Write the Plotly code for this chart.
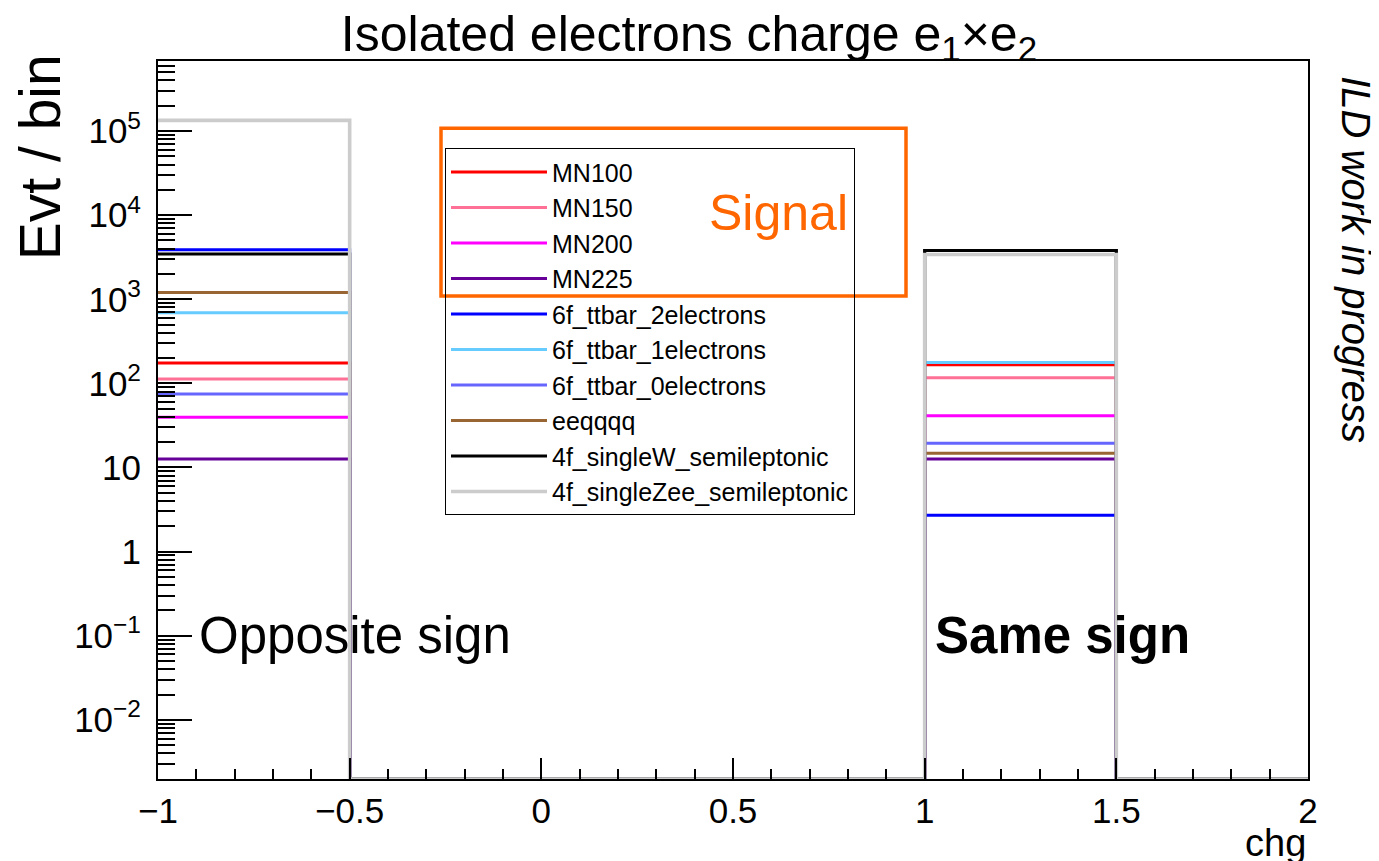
import math
import plotly.graph_objects as go

# ---------------- data ----------------
bin_edges = [-1.0, -0.5, 0.0, 0.5, 1.0, 1.5, 2.0]

legend_labels = [
    "MN100", "MN150", "MN200", "MN225",
    "6f_ttbar_2electrons", "6f_ttbar_1electrons", "6f_ttbar_0electrons",
    "eeqqqq", "4f_singleW_semileptonic", "4f_singleZee_semileptonic",
]
# events in the opposite-sign bin [-1,-0.5] (chg = -1)
opposite_sign = [175, 113, 39.5, 12.6, 3870, 690, 75, 1200, 3450, 134000]
# events in the same-sign bin [1,1.5] (chg = +1)
same_sign = [167, 117, 41.3, 12.6, 2.7, 177, 19.4, 14.8, 3800, 3400]

colors = [
    "#FF0000", "#FF7096", "#FF00FF", "#660099",
    "#0000FF", "#66CCFF", "#6666FF",
    "#996633", "#000000", "#CCCCCC",
]
line_widths = [3, 3, 3, 3, 3, 3, 3, 3, 3.2, 3.6]

y_tick_vals = [1e-2, 1e-1, 1, 10, 1e2, 1e3, 1e4, 1e5]
y_tick_text = ["10<sup>−2</sup>", "10<sup>−1</sup>", "1", "10",
               "10<sup>2</sup>", "10<sup>3</sup>", "10<sup>4</sup>", "10<sup>5</sup>"]
x_tick_vals = [-1, -0.5, 0, 0.5, 1, 1.5, 2]
x_tick_text = ["−1", "−0.5", "0", "0.5", "1", "1.5", "2"]

Y_MIN, Y_MAX = 1.98e-3, 6.8e5

# ---------------- layout geometry ----------------
FONT = "Liberation Sans, Arial, Helvetica, sans-serif"
OFF = 8                   # the page body has an 8px margin
W, H = 1379 - OFF, 861 - OFF
PX0, PX1 = 158, 1308      # plot area in page pixels
PY0, PY1 = 60.7, 779.3
PW, PH = PX1 - PX0, PY1 - PY0


def px(x):
    return (x - PX0) / PW


def py(y):
    return (PY1 - y) / PH


floor_val = Y_MIN  # empty bins drawn on the bottom of the frame (log axis)

fig = go.Figure()
for label, v_os, v_ss, col, lw in zip(legend_labels, opposite_sign, same_sign,
                                      colors, line_widths):
    counts = [v_os, 0, 0, 0, v_ss, 0]
    ys = [c if c > 0 else floor_val for c in counts]
    ys = ys + [ys[-1]]
    fig.add_trace(go.Scatter(
        x=bin_edges, y=ys, mode="lines", name=label,
        line=dict(color=col, width=lw, shape="hv"),
        hoverinfo="skip",
    ))

minor_vals = []
for e in range(-3, 6):
    for m in range(2, 10):
        v = m * 10.0 ** e
        if Y_MIN <= v <= Y_MAX:
            minor_vals.append(v)

fig.update_layout(
    width=W, height=H,
    margin=dict(l=PX0 - OFF, r=W - (PX1 - OFF), t=PY0 - OFF, b=H - (PY1 - OFF),
                autoexpand=False),
    paper_bgcolor="white", plot_bgcolor="white",
    font=dict(family=FONT, color="black"),
    title=dict(
        text="Isolated electrons charge e<sub>1</sub>×e<sub>2</sub>",
        x=(689 - OFF) / W, xanchor="center", y=1 - (33 - OFF) / H, yanchor="middle",
        font=dict(size=50, family=FONT, color="black"),
    ),
    showlegend=True,
    legend=dict(
        x=px(445), y=py(148),
        xanchor="left", yanchor="top",
        bgcolor="rgba(0,0,0,0)", bordercolor="black", borderwidth=1,
        font=dict(size=25, family=FONT, color="black"),
        itemwidth=96, tracegroupgap=0,
    ),
    xaxis=dict(
        range=[-1, 2], showgrid=False, zeroline=False, automargin=False,
        showline=True, linecolor="black", linewidth=2, mirror=True,
        ticks="inside", ticklen=21, tickwidth=1.5, tickcolor="black",
        tickmode="array", tickvals=x_tick_vals, ticktext=x_tick_text,
        tickfont=dict(size=35, family=FONT, color="black"),
        minor=dict(ticks="inside", ticklen=10, tickwidth=1.5, tickcolor="black",
                   dtick=0.1, tick0=0, showgrid=False),
    ),
    yaxis=dict(
        type="log", range=[math.log10(Y_MIN), math.log10(Y_MAX)],
        showgrid=False, zeroline=False, automargin=False,
        showline=True, linecolor="black", linewidth=2, mirror=True,
        ticks="inside", ticklen=34, tickwidth=1.5, tickcolor="black",
        tickmode="array", tickvals=y_tick_vals, ticktext=y_tick_text,
        tickfont=dict(size=35, family=FONT, color="black"),
        ticklabelstandoff=8,
        minor=dict(ticks="inside", ticklen=17, tickwidth=1.5, tickcolor="black",
                   tickmode="array", tickvals=minor_vals, showgrid=False),
    ),
)

# Signal box
fig.add_shape(type="rect", xref="paper", yref="paper",
              x0=px(441), x1=px(906), y0=py(296), y1=py(128),
              line=dict(color="#FF6600", width=3.5), fillcolor="rgba(0,0,0,0)",
              layer="above")

annots = [
    dict(text="Signal", x=px(707), y=py(213),
         xanchor="left", yanchor="middle", font=dict(size=50, color="#FF6600", family=FONT)),
    dict(text="Opposite sign", x=px(197), y=py(636),
         xanchor="left", yanchor="middle", font=dict(size=51, color="black", family=FONT)),
    dict(text="<b>Same sign</b>", x=px(933), y=py(636),
         xanchor="left", yanchor="middle", font=dict(size=51, color="black", family=FONT)),
    dict(text="Evt / bin", x=px(40), y=py(157), textangle=-90,
         xanchor="center", yanchor="middle", font=dict(size=57, color="black", family=FONT)),
    dict(text="chg", x=1.0, y=py(843),
         xanchor="right", yanchor="middle", font=dict(size=38, color="black", family=FONT)),
    dict(text="<i>ILD work in progress</i>", x=px(1356), y=py(260),
         textangle=90, xanchor="center", yanchor="middle",
         font=dict(size=40, color="black", family=FONT)),
]
for a in annots:
    fig.add_annotation(xref="paper", yref="paper", showarrow=False, **a)

fig.write_html("out.html")
